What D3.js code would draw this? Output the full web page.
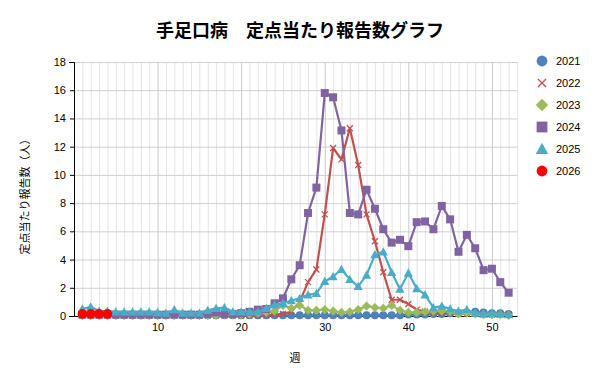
<!DOCTYPE html>
<html>
<head>
<meta charset="utf-8">
<script src="https://cdn.jsdelivr.net/npm/d3@7/dist/d3.min.js"></script>
<style>
  body { margin: 0; background: #fff; }
  text { font-family: "Liberation Sans", Arial, sans-serif; }
  .jp { font-family: "Noto Sans CJK JP", sans-serif; }
</style>
</head>
<body>
<div id="chart"></div>
<script>
// week numbers on the x axis
const weeks = d3.range(1, 53);
const xTicks = [10, 20, 30, 40, 50];
const yTicks = [0, 2, 4, 6, 8, 10, 12, 14, 16, 18];

const v2021 = [0.05,0.05,0.05,0.05,0.05,0.05,0.05,0.05,0.05,0.05,0.05,0.05,0.05,0.05,0.05,0.05,0.05,0.05,0.05,0.05,
  0.05,0.05,0.05,0.05,0.05,0.05,0.05,0.05,0.05,0.05,0.05,0.05,0.05,0.05,0.05,0.05,0.05,0.05,0.05,0.1,
  0.1,0.1,0.15,0.15,0.2,0.2,0.25,0.3,0.25,0.2,0.2,0.15];
const v2022 = [0.05,0.05,0.05,0.05,0.05,0.05,0.05,0.05,0.05,0.05,0.05,0.05,0.05,0.05,0.05,0.05,0.05,0.05,0.05,0.05,
  0.05,0.05,0.05,0.1,0.15,0.3,1.0,2.4,3.3,7.2,11.9,11.1,13.3,10.7,7.2,5.3,3.1,1.15,1.15,0.85,
  0.45,0.3,0.25,0.2,0.2,0.15,0.15,0.15,0.1,0.1,0.1,0.1];
const v2023 = [0.05,0.05,0.05,0.05,0.05,0.05,0.05,0.05,0.05,0.05,0.05,0.05,0.05,0.05,0.05,0.05,0.05,0.1,0.1,0.1,
  0.15,0.2,0.25,0.35,0.75,0.55,0.75,0.4,0.4,0.45,0.35,0.25,0.3,0.45,0.7,0.6,0.55,0.75,0.4,0.25,
  0.25,0.3,0.35,0.35,0.3,0.15,0.2,0.15,0.1,0.1,0.1,0.05];
const v2024 = [0.1,0.1,0.1,0.1,0.1,0.1,0.1,0.1,0.1,0.1,0.1,0.1,0.1,0.1,0.1,0.15,0.25,0.15,0.15,0.2,
  0.3,0.45,0.5,0.9,1.25,2.6,3.6,7.3,9.1,15.8,15.5,13.15,7.3,7.2,8.95,7.6,6.15,5.2,5.4,4.95,
  6.65,6.7,6.15,7.8,6.85,4.55,5.75,4.8,3.25,3.35,2.4,1.65];
const v2025 = [0.5,0.65,0.35,0.35,0.3,0.3,0.3,0.3,0.3,0.25,0.2,0.45,0.2,0.2,0.2,0.4,0.55,0.6,0.3,0.3,
  0.3,0.3,0.55,0.8,0.9,1.1,1.25,1.5,1.6,2.45,2.8,3.3,2.6,2.1,2.9,4.35,4.55,3.1,1.9,3.05,
  1.95,1.5,0.6,0.7,0.5,0.35,0.45,0.2,0.15,0.2,0.15,0.1];
const v2026 = [0.15,0.15,0.15,0.15];

const years = ['2021', '2022', '2023', '2024', '2025', '2026'];
const colors = ['#4F81BD', '#C0504D', '#9BBB59', '#8064A2', '#4BACC6', '#FF0000'];
const shapes = ['circle', 'cross', 'diamond', 'square', 'triangle', 'bigcircle'];
const seriesValues = [v2021, v2022, v2023, v2024, v2025, v2026];

const width = 600, height = 384;
const plot = { left: 74, right: 517, top: 62, bottom: 316 };

const svg = d3.select('#chart').append('svg')
  .attr('width', width)
  .attr('height', height);

const x = d3.scaleLinear().domain([0, 53]).range([plot.left, plot.right]);
const y = d3.scaleLinear().domain([0, 18]).range([plot.bottom, plot.top]);

// gridlines
const grid = svg.append('g');
grid.selectAll('.vminor')
  .data(d3.range(1, 54).filter(d => d % 10 !== 0))
  .enter().append('line')
  .attr('x1', d => x(d) + 0.5).attr('x2', d => x(d) + 0.5)
  .attr('y1', plot.top).attr('y2', plot.bottom)
  .attr('stroke', '#E3E3E3').attr('stroke-width', 1);
grid.selectAll('.vmajor')
  .data(xTicks)
  .enter().append('line')
  .attr('x1', d => x(d) + 0.5).attr('x2', d => x(d) + 0.5)
  .attr('y1', plot.top).attr('y2', plot.bottom)
  .attr('stroke', '#C8C8C8').attr('stroke-width', 1);
grid.selectAll('.hmajor')
  .data(yTicks.slice(1))
  .enter().append('line')
  .attr('x1', plot.left).attr('x2', plot.right)
  .attr('y1', d => y(d) + 0.5).attr('y2', d => y(d) + 0.5)
  .attr('stroke', '#CFCFCF').attr('stroke-width', 1);

// axes
const yAxis = svg.append('g')
  .attr('transform', `translate(${plot.left},0)`)
  .call(d3.axisLeft(y).tickValues(yTicks).tickSize(5).tickPadding(3));
yAxis.select('.domain').attr('stroke', '#000');
yAxis.selectAll('.tick line').attr('stroke', '#000').attr('x2', -4);
yAxis.selectAll('.tick text').attr('font-size', '11px').attr('fill', '#000')
  .attr('font-family', '"Liberation Sans", Arial, sans-serif');

const xAxis = svg.append('g')
  .attr('transform', `translate(0,${plot.bottom})`)
  .call(d3.axisBottom(x).tickValues(xTicks).tickSize(0).tickPadding(7));
xAxis.select('.domain').attr('stroke', '#000');
xAxis.selectAll('.tick text').attr('font-size', '11px').attr('fill', '#000')
  .attr('font-family', '"Liberation Sans", Arial, sans-serif');

// marker drawing
function drawMarker(g, shape, color, s) {
  if (shape === 'circle') {
    g.append('circle').attr('r', 4 * s).attr('fill', color);
  } else if (shape === 'bigcircle') {
    g.append('circle').attr('r', 4.8 * s).attr('fill', color);
  } else if (shape === 'square') {
    g.append('rect').attr('x', -4 * s).attr('y', -4 * s)
      .attr('width', 8 * s).attr('height', 8 * s).attr('fill', color);
  } else if (shape === 'diamond') {
    const r = 4.6 * s;
    g.append('path').attr('d', `M0,${-r}L${r},0L0,${r}L${-r},0Z`).attr('fill', color);
  } else if (shape === 'triangle') {
    const r = 4.6 * s;
    g.append('path').attr('d', `M0,${-r}L${r},${r * 0.8}L${-r},${r * 0.8}Z`).attr('fill', color);
  } else if (shape === 'cross') {
    const r = 3 * s;
    g.append('path').attr('d', `M${-r},${-r}L${r},${r}M${-r},${r}L${r},${-r}`)
      .attr('stroke', color).attr('stroke-width', 1.3).attr('fill', 'none');
  }
}

const line = d3.line()
  .x((d, i) => x(weeks[i]))
  .y(d => y(d));

seriesValues.forEach((vals, k) => {
  const g = svg.append('g');
  g.append('path')
    .datum(vals)
    .attr('d', line)
    .attr('fill', 'none')
    .attr('stroke', colors[k])
    .attr('stroke-width', 2.2)
    .attr('stroke-linejoin', 'round');
  g.selectAll('.m')
    .data(vals)
    .enter().append('g')
    .attr('transform', (d, i) => `translate(${x(weeks[i])},${y(d)})`)
    .each(function () { drawMarker(d3.select(this), shapes[k], colors[k], 1); });
});

// title
svg.append('text')
  .attr('class', 'jp')
  .attr('x', 300).attr('y', 37)
  .attr('text-anchor', 'middle')
  .attr('font-size', '18px')
  .attr('font-weight', 'bold')
  .text('手足口病　定点当たり報告数グラフ');

// axis titles
svg.append('text')
  .attr('class', 'jp')
  .attr('transform', 'translate(29,194) rotate(-90)')
  .attr('text-anchor', 'middle')
  .attr('font-size', '11px')
  .text('定点当たり報告数（人）');

svg.append('text')
  .attr('class', 'jp')
  .attr('x', 295).attr('y', 362)
  .attr('text-anchor', 'middle')
  .attr('font-size', '11px')
  .text('週');

// legend
const legend = svg.append('g');
years.forEach((yr, k) => {
  const item = legend.append('g').attr('transform', `translate(542,${61 + k * 22})`);
  drawMarker(item.append('g'), shapes[k] === 'bigcircle' ? 'circle' : shapes[k], colors[k], 1.35);
  item.append('text')
    .attr('x', 14).attr('y', 4)
    .attr('font-size', '11px')
    .text(yr);
});
</script>
</body>
</html>
